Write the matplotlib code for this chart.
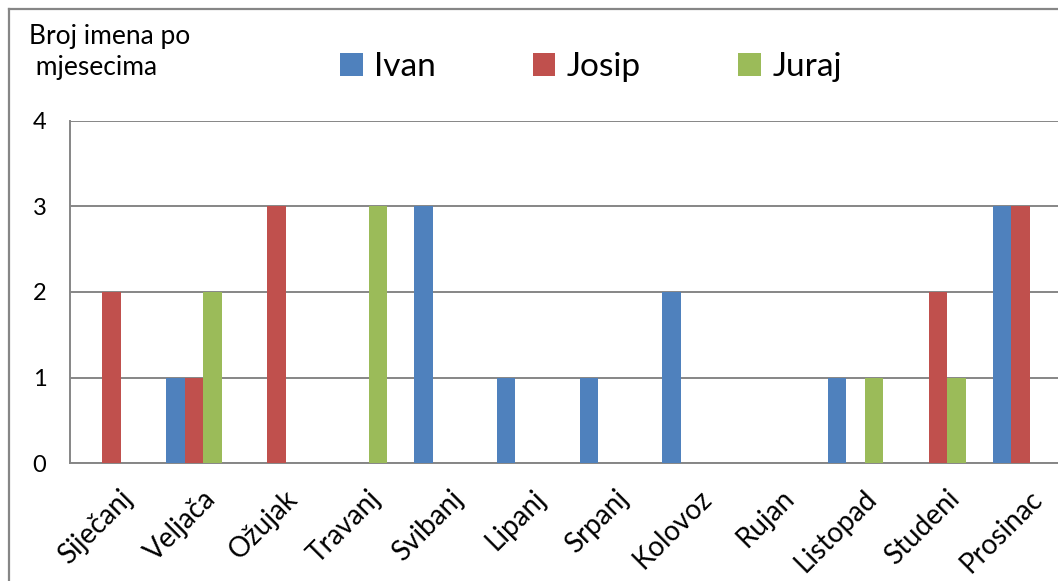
import matplotlib
matplotlib.use("Agg")
import matplotlib.pyplot as plt
from matplotlib.lines import Line2D
import numpy as np

months = ["Siječanj", "Veljača", "Ožujak", "Travanj", "Svibanj", "Lipanj",
          "Srpanj", "Kolovoz", "Rujan", "Listopad", "Studeni", "Prosinac"]
series_names = ["Ivan", "Josip", "Juraj"]
ivan = [0, 1, 0, 0, 3, 1, 1, 2, 0, 1, 0, 3]
josip = [2, 1, 3, 0, 0, 0, 0, 0, 0, 0, 2, 3]
juraj = [0, 2, 0, 3, 0, 0, 0, 0, 0, 1, 1, 0]
colors = ["#4F81BD", "#C0504D", "#9BBB59"]
yticks = [0, 1, 2, 3, 4]

plt.rcParams['font.family'] = ['Lato', 'DejaVu Sans']

W, H = 1058, 581
fig = plt.figure(figsize=(W / 100, H / 100), dpi=100)

# outer chart border (left and top only visible)
fig.add_artist(Line2D([8.5 / W, 8.5 / W], [0, 1 - 8.5 / H], transform=fig.transFigure,
                      color="#868686", linewidth=1.6))
fig.add_artist(Line2D([8.5 / W, 1], [1 - 8.5 / H, 1 - 8.5 / H], transform=fig.transFigure,
                      color="#868686", linewidth=1.6))

left, right, top, bottom = 70, 1062, 121, 463
ax = fig.add_axes([left / W, 1 - bottom / H, (right - left) / W, (bottom - top) / H])

x = np.arange(len(months))
w = 0.222
for i, (vals, name) in enumerate(zip([ivan, josip, juraj], series_names)):
    ax.bar(x + (i - 1) * w, vals, width=w, color=colors[i], label=name, zorder=3,
           edgecolor="none")

ax.set_xlim(-0.5, len(months) - 0.5)
ax.set_ylim(0, 4)
ax.set_yticks(yticks)
ax.set_yticklabels([str(t) for t in yticks], fontsize=17)
ax.yaxis.grid(True, color="#868686", linewidth=1.4, zorder=0)
ax.set_axisbelow(True)
ax.tick_params(axis='y', length=0, pad=17)
ax.tick_params(axis='x', length=0, pad=16)
ax.set_xticks(x + 0.1)
ax.set_xticklabels(months, rotation=45, ha='right', rotation_mode='anchor', fontsize=20)
for s in ["top", "right"]:
    ax.spines[s].set_visible(False)
ax.spines["left"].set_color("#868686")
ax.spines["left"].set_linewidth(1.4)
ax.spines["bottom"].set_color("#868686")
ax.spines["bottom"].set_linewidth(1.4)

fig.text(29 / W, 1 - 24 / H, "Broj imena po\n mjesecima", fontsize=19, ha='left', va='top',
         linespacing=1.3)

leg = fig.legend(loc='center left', bbox_to_anchor=(340 / W, 1 - 67 / H), ncol=3,
                 frameon=False, fontsize=24, handlelength=0.68, handleheight=0.68,
                 handletextpad=0.35, columnspacing=2.9, borderaxespad=0, borderpad=0)

fig.savefig("out.png", dpi=100)
